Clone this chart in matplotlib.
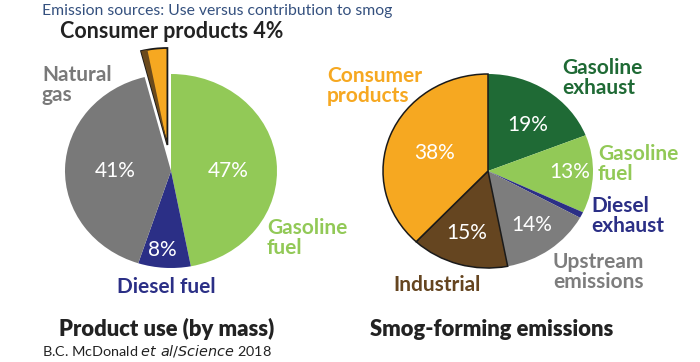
import matplotlib.pyplot as plt
from matplotlib.patches import Wedge

plt.rcParams['font.family'] = ['Lato', 'DejaVu Sans']

# data
use_labels = ['Gasoline fuel', 'Diesel fuel', 'Natural gas', 'Consumer products']
use_values = [47, 8, 41, 4]
use_colors = ['#92c957', '#2b2f86', '#797979', '#f6a821']

smog_labels = ['Gasoline exhaust', 'Gasoline fuel', 'Diesel exhaust',
               'Upstream emissions', 'Industrial', 'Consumer products']
smog_values = [19, 13, 1, 14, 15, 38]
smog_colors = ['#1f6a35', '#92c957', '#2b2f86', '#7d7d7d', '#654520', '#f6a821']

W, H = 700, 362


def fx(x):
    return x / W


def fy(y):
    return 1 - y / H


def pie_axes(fig, cx, cy, rx, ry, span=1.5):
    # axes where radius 1 -> rx px horizontally, ry px vertically
    ax = fig.add_axes([fx(cx - span * rx), fy(cy + span * ry),
                       2 * span * rx / W, 2 * span * ry / H])
    return ax


fig = plt.figure(figsize=(7, 3.62), dpi=100)

# ---- left pie: product use
ax1 = pie_axes(fig, 171, 171, 106, 97)
explode = [0, 0, 0, 0.27]
wedges1, _ = ax1.pie(use_values, colors=use_colors, startangle=90,
                     counterclock=False, explode=explode,
                     wedgeprops=dict(linewidth=0))
cp = wedges1[3]
cp.set_edgecolor('#1a1a1a')
cp.set_linewidth(1.3)
# darker side face of the pulled-out wedge
side = Wedge(cp.center, cp.r, cp.theta2 - 3.5, cp.theta2, facecolor='#6b4a1c',
             edgecolor='none')
ax1.add_patch(side)
ax1.set_xlim(-1.5, 1.5)
ax1.set_ylim(-1.5, 1.5)
ax1.set_aspect('auto')
ax1.axis('off')

# ---- right pie: smog-forming emissions
ax2 = pie_axes(fig, 488, 171, 105, 97)
wedges2, _ = ax2.pie(smog_values, colors=smog_colors, startangle=90,
                     counterclock=False, wedgeprops=dict(linewidth=0))
for w in (wedges2[4], wedges2[5]):
    w.set_edgecolor('#1a1a1a')
    w.set_linewidth(1.1)
ax2.set_xlim(-1.5, 1.5)
ax2.set_ylim(-1.5, 1.5)
ax2.set_aspect('auto')
ax2.axis('off')

# ---- text
fig.text(fx(42), fy(11), 'Emission sources: Use versus contribution to smog',
         fontsize=11.3, color='#34507e', va='center', ha='left')

lab = dict(fontsize=15, fontweight='bold', linespacing=0.95)
pct = dict(fontsize=15, color='white', ha='center', va='center')

fig.text(fx(172), fy(31), f'Consumer products {use_values[3]}%',
         color='#222222', ha='center', va='center', fontsize=15.5,
         fontweight='bold')
fig.text(fx(42), fy(85), 'Natural\ngas', color=use_colors[2],
         ha='left', va='center', **lab)
fig.text(fx(267), fy(238), 'Gasoline\nfuel', color=use_colors[0],
         ha='left', va='center', **lab)
fig.text(fx(166), fy(287), 'Diesel fuel', color=use_colors[1],
         ha='center', va='center', **lab)

fig.text(fx(228), fy(171), f'{use_values[0]}%', **pct)
fig.text(fx(115), fy(171), f'{use_values[2]}%', **pct)
fig.text(fx(162), fy(250), f'{use_values[1]}%', **pct)

fig.text(fx(327), fy(86), 'Consumer\nproducts', color=smog_colors[5],
         ha='left', va='center', **lab)
fig.text(fx(562), fy(78), 'Gasoline\nexhaust', color=smog_colors[0],
         ha='left', va='center', **lab)
fig.text(fx(598), fy(164), 'Gasoline\nfuel', color=smog_colors[1],
         ha='left', va='center', **lab)
fig.text(fx(591), fy(216), 'Diesel\nexhaust', color=smog_colors[2],
         ha='left', va='center', **lab)
fig.text(fx(553), fy(272), 'Upstream\nemissions', color=smog_colors[3],
         ha='left', va='center', **lab)
fig.text(fx(437), fy(285), 'Industrial', color=smog_colors[4],
         ha='center', va='center', **lab)

fig.text(fx(528), fy(125), f'{smog_values[0]}%', **pct)
fig.text(fx(435), fy(153), f'{smog_values[5]}%', **pct)
fig.text(fx(570), fy(172), f'{smog_values[1]}%', **pct)
fig.text(fx(467), fy(233), f'{smog_values[4]}%', **pct)
fig.text(fx(532), fy(225), f'{smog_values[3]}%', **pct)

fig.text(fx(167), fy(329), 'Product use (by mass)', fontsize=15.8,
         fontweight='heavy', color='#222222', ha='center', va='center')
fig.text(fx(492), fy(329), 'Smog-forming emissions', fontsize=15.8,
         fontweight='heavy', color='#222222', ha='center', va='center')
fig.text(fx(42), fy(351), r'B.C. McDonald $\it{et\ al/Science}$ 2018',
         fontsize=10.4, color='#222222', ha='left', va='center')

fig.savefig('out.png', dpi=100)
